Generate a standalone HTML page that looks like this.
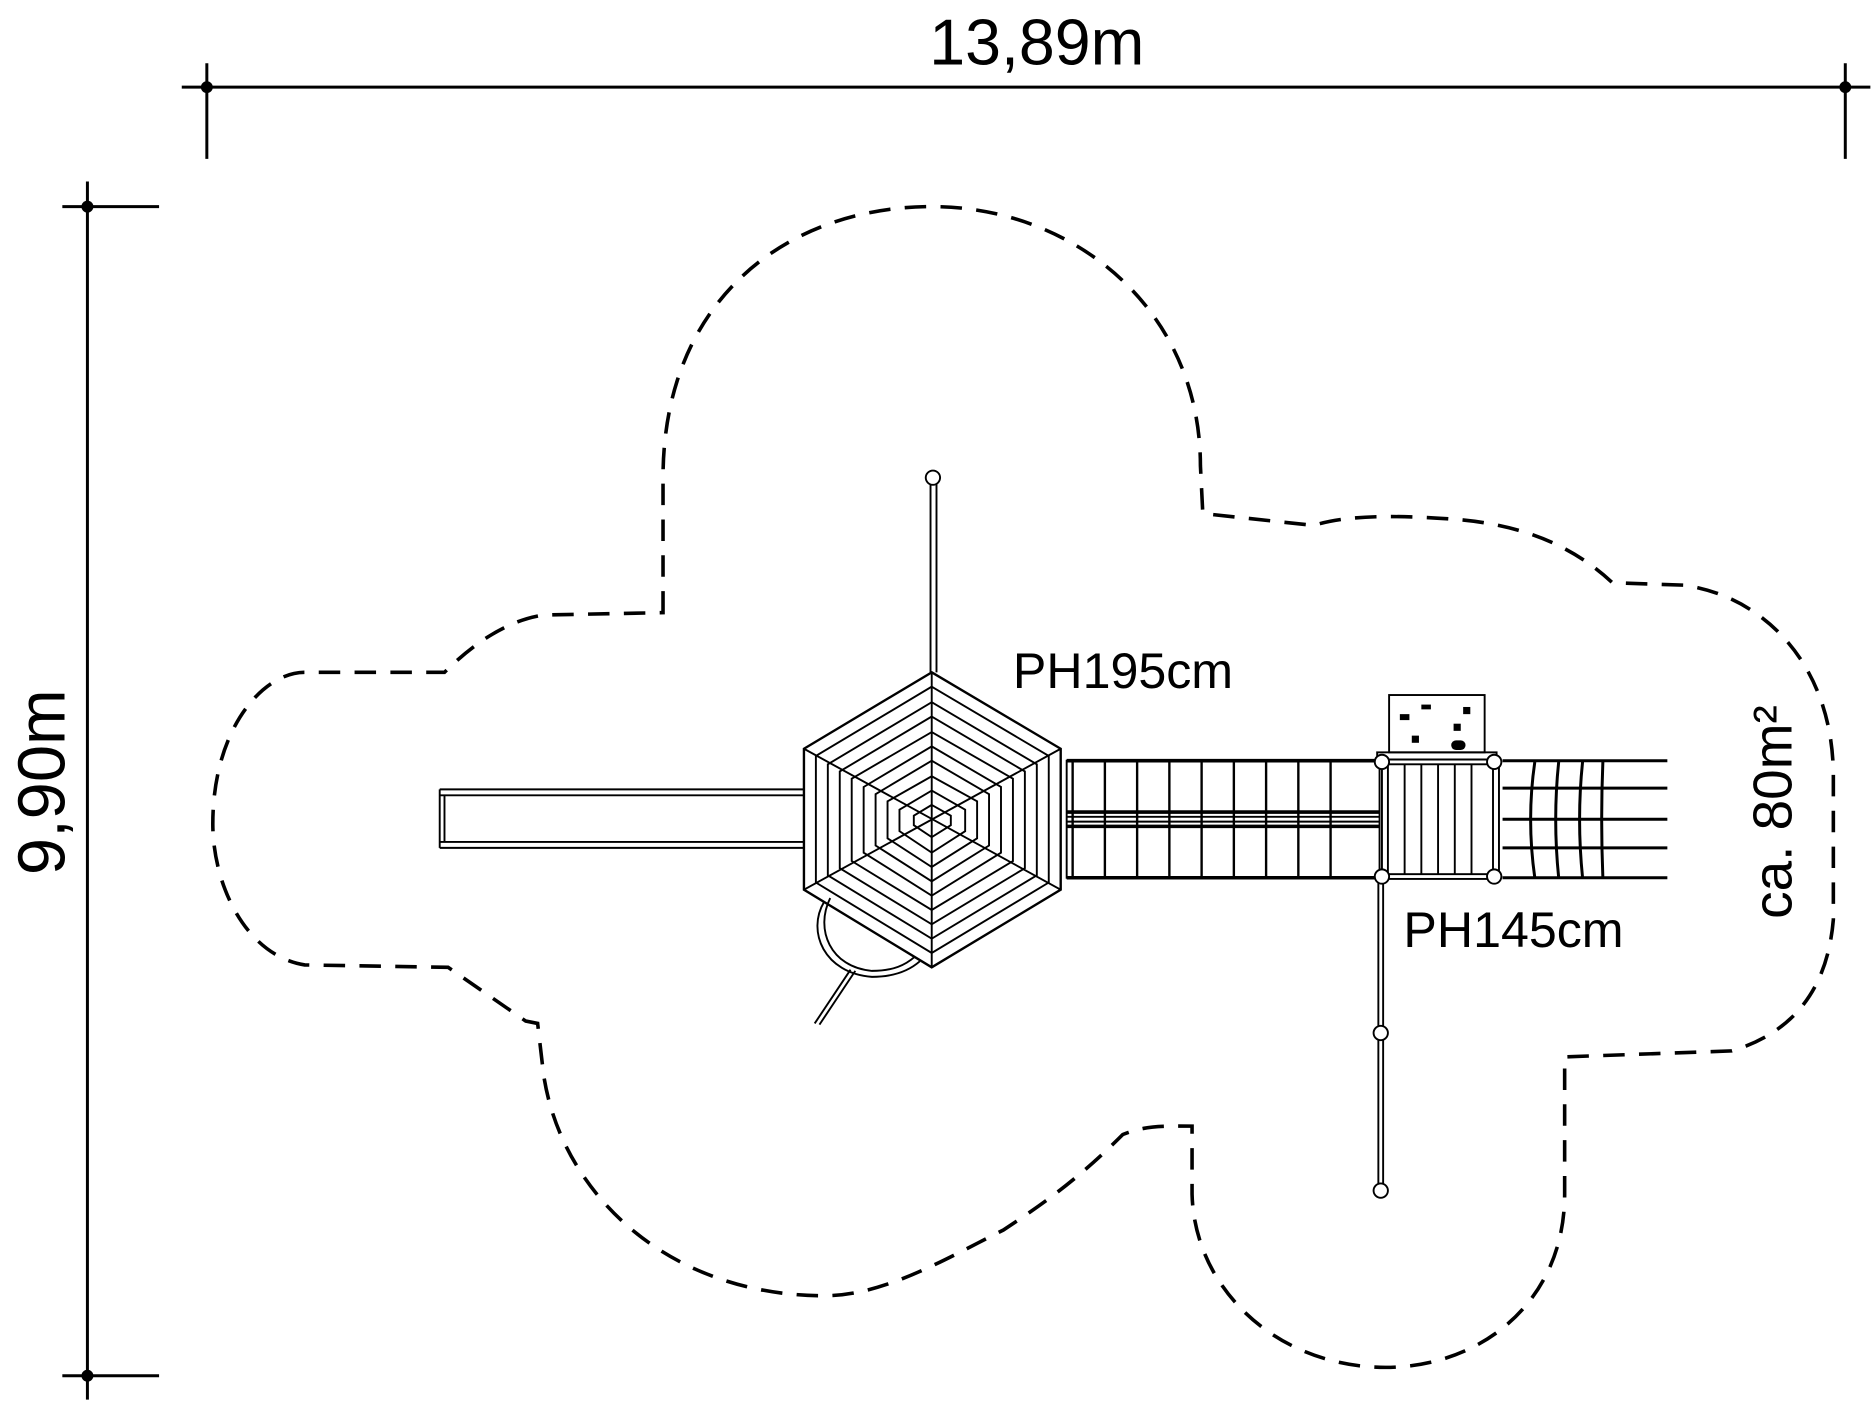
<!DOCTYPE html>
<html><head><meta charset="utf-8"><style>html,body{margin:0;padding:0;background:#fff}svg{display:block}</style></head>
<body>
<svg width="1873" height="1402" viewBox="0 0 1568 1174" xmlns="http://www.w3.org/2000/svg" font-family="'Liberation Sans',sans-serif">
<g stroke="#000" stroke-width="2.5" fill="none">
<line x1="152" y1="73" x2="1566" y2="73"/>
<line x1="173" y1="53" x2="173" y2="133"/>
<line x1="1545" y1="53" x2="1545" y2="133"/>
<line x1="73" y1="152" x2="73" y2="1172"/>
<line x1="52" y1="173" x2="133" y2="173"/>
<line x1="52" y1="1152" x2="133" y2="1152"/>
</g>
<g fill="#000"><circle cx="173" cy="73" r="5"/><circle cx="1545" cy="73" r="5"/><circle cx="73" cy="173" r="5"/><circle cx="73" cy="1152" r="5"/></g>
<text x="868" y="54" font-size="54" text-anchor="middle">13,89m</text>
<text transform="translate(54,655) rotate(-90)" font-size="56" text-anchor="middle">9,90m</text>
<text transform="translate(1500,680) rotate(-90)" font-size="46" text-anchor="middle">ca. 80m²</text>
<text x="848" y="576" font-size="42">PH195cm</text>
<text x="1175" y="793" font-size="42">PH145cm</text>

<path d="M555,513 L555,400 C555,250 660,173 780,173 C900,173 1005,260 1005,390 L1007,430 L1100,440 C1130,430 1180,432 1220,435 C1280,440 1320,460 1350,488 L1410,490 C1480,500 1535,560 1535,650 L1535,770 C1530,830 1500,865 1450,880 L1310,885 L1310,1000 C1310,1090 1240,1145 1160,1145 C1070,1145 1000,1080 998,1000 L998,943 C975,943 960,942 940,950 C900,990 870,1010 840,1030 C790,1055 740,1085 690,1085 C560,1085 470,1000 455,900 L450,857 L440,855 L375,810 L255,808 C205,800 178,740 178,690 C178,610 220,563 255,563 L372,563 C390,545 420,520 455,515 Z" stroke="#000" stroke-width="3" fill="none" stroke-dasharray="18 12"/>

<g stroke="#000" stroke-width="1.6" fill="none">
<line x1="368" y1="661" x2="673" y2="661"/><line x1="368" y1="666" x2="673" y2="666"/>
<line x1="368" y1="705" x2="673" y2="705"/><line x1="368" y1="710" x2="673" y2="710"/>
<line x1="368" y1="661" x2="368" y2="710"/><line x1="372" y1="666" x2="372" y2="705"/>
<line x1="779" y1="405" x2="779" y2="563"/><line x1="784" y1="405" x2="784" y2="563"/>
<path d="M690,755 C675,780 690,815 730,818 C750,818 762,812 770,805"/>
<path d="M695,752 C682,778 695,810 730,813 C748,813 758,808 766,801"/>
<line x1="712" y1="812" x2="682" y2="857"/><line x1="716" y1="813" x2="686" y2="858"/>
<g stroke-width="1.6">
<polygon points="780,563 888,627 888,745 780,810 673,745 673,627" stroke-width="2"/>
<polygon points="780,575 878,633 878,739 780,798 683,739 683,633"/>
<polygon points="780,588 868,640 868,733 780,786 693,733 693,640"/>
<polygon points="780,600 858,646 858,727 780,774 703,727 703,646"/>
<polygon points="780,613 848,652 848,721 780,762 713,721 713,652"/>
<polygon points="780,625 838,659 838,714 780,750 723,714 723,659"/>
<polygon points="780,637 828,665 828,708 780,738 733,708 733,665"/>
<polygon points="780,650 818,671 818,702 780,726 743,702 743,671"/>
<polygon points="780,662 808,678 808,696 780,714 753,696 753,678"/>
<polygon points="780,674 796,683 796,691 780,701 765,691 765,683"/>
<line x1="780" y1="563" x2="780" y2="810"/>
<line x1="673" y1="627" x2="888" y2="745"/>
<line x1="888" y1="627" x2="673" y2="745"/>
</g>
<rect x="893" y="637" width="262" height="98"/>
<line x1="893" y1="680" x2="1155" y2="680" stroke-width="3"/>
<line x1="893" y1="692" x2="1155" y2="692" stroke-width="3"/>
<line x1="893" y1="684" x2="1155" y2="684"/><line x1="893" y1="688" x2="1155" y2="688"/>
<line x1="893" y1="637" x2="1155" y2="637" stroke-width="3"/>
<line x1="893" y1="735" x2="1155" y2="735" stroke-width="3"/>
<g stroke-width="2">
<line x1="898" y1="637" x2="898" y2="735"/><line x1="925" y1="637" x2="925" y2="735"/><line x1="952" y1="637" x2="952" y2="735"/><line x1="979" y1="637" x2="979" y2="735"/><line x1="1006" y1="637" x2="1006" y2="735"/><line x1="1033" y1="637" x2="1033" y2="735"/><line x1="1060" y1="637" x2="1060" y2="735"/><line x1="1087" y1="637" x2="1087" y2="735"/><line x1="1114" y1="637" x2="1114" y2="735"/>
</g>
<rect x="1163" y="582" width="80" height="48"/>
<rect x="1153" y="630" width="100" height="6"/>
<rect x="1157" y="636" width="98" height="100"/>
<rect x="1162" y="640" width="88" height="92"/>
<line x1="1176" y1="640" x2="1176" y2="732"/><line x1="1190" y1="640" x2="1190" y2="732"/><line x1="1204" y1="640" x2="1204" y2="732"/><line x1="1218" y1="640" x2="1218" y2="732"/><line x1="1232" y1="640" x2="1232" y2="732"/>
<g stroke-width="2.5">
<line x1="1258" y1="637" x2="1396" y2="637"/><line x1="1258" y1="660" x2="1396" y2="660"/><line x1="1258" y1="686" x2="1396" y2="686"/><line x1="1258" y1="710" x2="1396" y2="710"/><line x1="1258" y1="735" x2="1396" y2="735"/>
<path d="M1285,638 Q1278,686 1285,735"/><path d="M1305,638 Q1300,686 1305,735"/><path d="M1325,638 Q1320,686 1325,735"/><path d="M1342,638 Q1340,686 1342,735"/>
</g>
<line x1="1154" y1="735" x2="1154" y2="993"/><line x1="1158" y1="735" x2="1158" y2="993"/>
</g>
<g fill="#000"><rect x="1172" y="598" width="8" height="5"/><rect x="1217" y="606" width="6" height="6"/><rect x="1190" y="590" width="8" height="4"/><rect x="1182" y="616" width="6" height="6"/><rect x="1215" y="620" width="12" height="8" rx="4"/><rect x="1225" y="592" width="6" height="6"/></g>
<g fill="#fff" stroke="#000" stroke-width="1.6">
<circle cx="781" cy="400" r="6"/>
<circle cx="1157" cy="638" r="6"/><circle cx="1251" cy="638" r="6"/><circle cx="1157" cy="734" r="6"/><circle cx="1251" cy="734" r="6"/>
<circle cx="1156" cy="865" r="6"/><circle cx="1156" cy="997" r="6"/>
</g>
</svg>
</body></html>
